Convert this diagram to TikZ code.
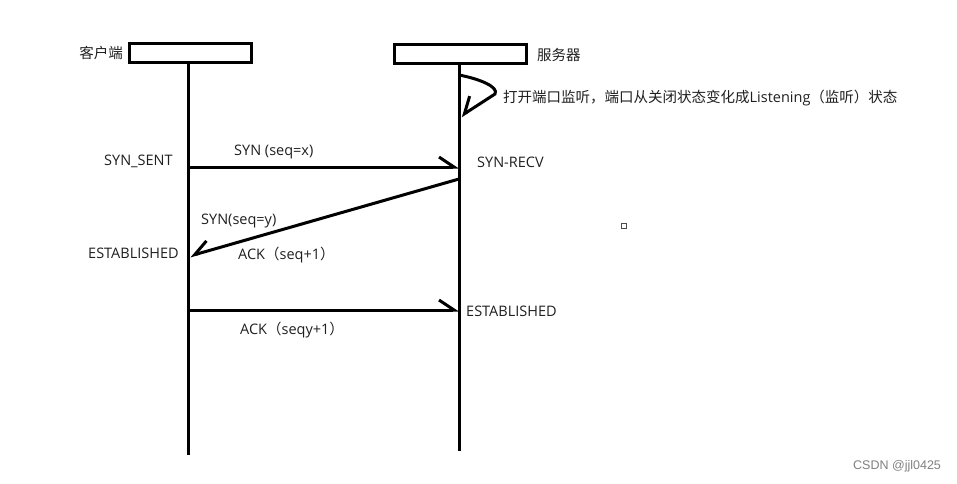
\documentclass[tikz,border=0pt]{standalone}
\usepackage{fontspec}
\setmainfont{Open Sans}
\newfontfamily\cjk{Noto Sans CJK SC}
\newfontfamily\wmfont{Liberation Sans}
\usetikzlibrary{arrows.meta}
\begin{document}
\begin{tikzpicture}[x=1pt,y=-1pt,
  lbl/.style={anchor=west,inner sep=0pt,font=\fontsize{14.5}{16}\selectfont,text=black!88},
  life/.style={line width=3pt},
  msgL/.style={line width=3pt,-{Straight Barb[harpoon,length=15pt,width=20pt]}},
  msgR/.style={line width=3pt,-{Straight Barb[harpoon,swap,length=15pt,width=20pt]}}]
\useasboundingbox (0,0) rectangle (957,483);
% actors
\draw[line width=3pt] (129.5,43.5) rectangle (251.5,62.5);
\draw[line width=3pt] (394.5,44.5) rectangle (526.5,63.5);
\coordinate (cTop) at (188,63);
\coordinate (cBot) at (188,455);
\coordinate (sTop) at (459,64);
\coordinate (sBot) at (459,451);
\draw[life] (cTop) -- (cBot);
\draw[life] (sTop) -- (sBot);
\node[lbl,anchor=east] (client) at (123,53) {\cjk 客户端};
\node[lbl] (server) at (537,55) {\cjk 服务器};
% self loop
\coordinate (l1) at (459,75);
\coordinate (l2) at (495,94);
\coordinate (l3) at (461,116);
\draw[line width=3pt,-{Straight Barb[harpoon,swap,length=14pt,width=24pt]}] (l1) .. controls (480,79) and (499,87) .. (l2) -- (l3);
\node[lbl] (listen) at (503,98) {{\cjk 打开端口监听，端口从关闭状态变化成}Listening{\cjk （监听）状态}};
% messages
\coordinate (m1a) at (188,167);
\coordinate (m1b) at (459,167);
\draw[msgL] (m1a) -- (m1b);
\coordinate (m2a) at (459,179);
\coordinate (m2b) at (190,256);
\draw[msgR] (m2a) -- (m2b);
\coordinate (m3a) at (188,310);
\coordinate (m3b) at (459,310);
\draw[msgL] (m3a) -- (m3b);
% labels
\node[lbl] (synsent) at (104,161) {SYN\_SENT};
\node[lbl] (synx) at (234,152) {SYN (seq=x)};
\node[lbl] (synrecv) at (477,162) {SYN-RECV};
\node[lbl] (syny) at (201,221) {SYN(seq=y)};
\node[lbl] (estL) at (88,253) {ESTABLISHED};
\node[lbl] (ack1) at (238,255) {ACK{\cjk （}seq+1{\cjk ）}};
\node[lbl] (estR) at (466,311) {ESTABLISHED};
\node[lbl] (ack2) at (240,330) {ACK{\cjk （}seqy+1{\cjk ）}};
% stray mark
\draw[line width=1pt,black!70] (621.5,223.5) rectangle (626.5,228.5);
% watermark
\node[anchor=west,inner sep=0pt,font=\wmfont\fontsize{12.5}{14}\selectfont,text=black!50] (wm) at (853,466) {CSDN @jjl0425};
\end{tikzpicture}
\end{document}
